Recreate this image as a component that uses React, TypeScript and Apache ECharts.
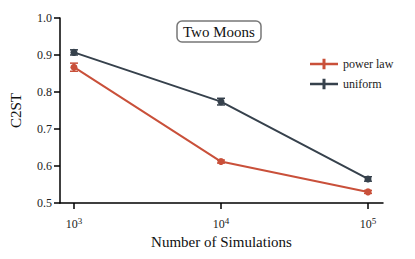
import React, { useEffect, useRef } from "react";
import * as echarts from "echarts";

const simulations = [1000, 10000, 100000];
const tickExponents = [3, 4, 5];
const powerLaw = [0.867, 0.612, 0.53];
const powerLawErr = [0.011, 0.004, 0.004];
const uniform = [0.907, 0.774, 0.565];
const uniformErr = [0.007, 0.009, 0.006];
const yTicks = [0.5, 0.6, 0.7, 0.8, 0.9, 1.0];

const RED = "#C9503A";
const DARK = "#36414C";
const FONT = "'Liberation Serif', 'Times New Roman', serif";

const legendIcon =
  "path://M0,4 L12.5,4 L12.5,0 L15.5,0 L15.5,4 L28,4 L28,6.5 L15.5,6.5 L15.5,10.5 L12.5,10.5 L12.5,6.5 L0,6.5 Z";

function errSeries(name: string, vals: number[], errs: number[], color: string) {
  return {
    name,
    type: "custom",
    data: simulations.map((s, i) => [Math.log10(s), vals[i] - errs[i], vals[i] + errs[i]]),
    renderItem: (params: any, api: any) => {
      const x = api.value(0);
      const lo = api.coord([x, api.value(1)]);
      const hi = api.coord([x, api.value(2)]);
      const cap = 4;
      const st = { stroke: color, lineWidth: 1.5 };
      return {
        type: "group",
        children: [
          { type: "line", shape: { x1: lo[0], y1: lo[1], x2: hi[0], y2: hi[1] }, style: st },
          { type: "line", shape: { x1: lo[0] - cap, y1: lo[1], x2: lo[0] + cap, y2: lo[1] }, style: st },
          { type: "line", shape: { x1: hi[0] - cap, y1: hi[1], x2: hi[0] + cap, y2: hi[1] }, style: st },
        ],
      };
    },
    z: 3,
    silent: true,
  };
}

export default function App() {
  const ref = useRef<HTMLDivElement>(null);
  useEffect(() => {
    if (!ref.current) return;
    const chart = echarts.init(ref.current, undefined, { renderer: "svg" });
    chart.setOption({
      animation: false,
      textStyle: { fontFamily: FONT },
      grid: { left: 60, right: 32, top: 18, bottom: 56 },
      title: {
        text: "Two Moons",
        left: 177,
        top: 21,
        padding: [3, 6, 3, 6],
        borderColor: "#777",
        borderWidth: 1.5,
        borderRadius: 5,
        textStyle: { fontFamily: FONT, fontSize: 15, fontWeight: "normal", color: "#111" },
      },
      legend: {
        orient: "vertical",
        left: 305,
        top: 53,
        itemWidth: 28,
        itemHeight: 11,
        itemGap: 8,
        textStyle: { fontFamily: FONT, fontSize: 12, color: "#222" },
        data: [
          { name: "power law", icon: legendIcon, itemStyle: { color: RED } },
          { name: "uniform", icon: legendIcon, itemStyle: { color: DARK } },
        ],
      },
      xAxis: {
        type: "value",
        min: 2.905,
        max: 5.102,
        name: "Number of Simulations",
        nameLocation: "middle",
        nameGap: 27,
        nameTextStyle: { fontFamily: FONT, fontSize: 15, color: "#111" },
        splitLine: { show: false },
        axisLine: { lineStyle: { color: "#000", width: 1.5 } },
        axisTick: { customValues: tickExponents, length: 6, lineStyle: { color: "#000", width: 1.5 } },
        axisLabel: {
          customValues: tickExponents,
          margin: 9,
          formatter: (v: number) => `{b|10}{s|${Math.round(v)}}`,
          rich: {
            b: { fontFamily: FONT, fontSize: 12, color: "#222", padding: [6, 0, 0, 0] },
            s: { fontFamily: FONT, fontSize: 9, color: "#222", padding: [0, 0, 0, 0] },
          },
        },
      },
      yAxis: {
        type: "value",
        min: 0.5,
        max: 1.0,
        interval: 0.1,
        name: "C2ST",
        nameLocation: "middle",
        nameGap: 37,
        nameTextStyle: { fontFamily: FONT, fontSize: 15, color: "#111" },
        splitLine: { show: false },
        axisLine: { show: true, lineStyle: { color: "#000", width: 1.5 } },
        axisTick: { show: true, length: 6, lineStyle: { color: "#000", width: 1.5 } },
        axisLabel: {
          fontFamily: FONT,
          fontSize: 12,
          color: "#222",
          margin: 8,
          formatter: (v: number) => (yTicks.some((t) => Math.abs(t - v) < 1e-9) ? v.toFixed(1) : ""),
        },
      },
      series: [
        {
          name: "power law",
          type: "line",
          data: simulations.map((s, i) => [Math.log10(s), powerLaw[i]]),
          symbol: "circle",
          symbolSize: 7,
          lineStyle: { color: RED, width: 2 },
          itemStyle: { color: RED },
          z: 4,
        },
        {
          name: "uniform",
          type: "line",
          data: simulations.map((s, i) => [Math.log10(s), uniform[i]]),
          symbol: "circle",
          symbolSize: 7,
          lineStyle: { color: DARK, width: 2 },
          itemStyle: { color: DARK },
          z: 4,
        },
        errSeries("power law", powerLaw, powerLawErr, RED),
        errSeries("uniform", uniform, uniformErr, DARK),
      ],
    });
    return () => chart.dispose();
  }, []);
  return <div ref={ref} style={{ width: 415, height: 259, margin: -8 }} />;
}
